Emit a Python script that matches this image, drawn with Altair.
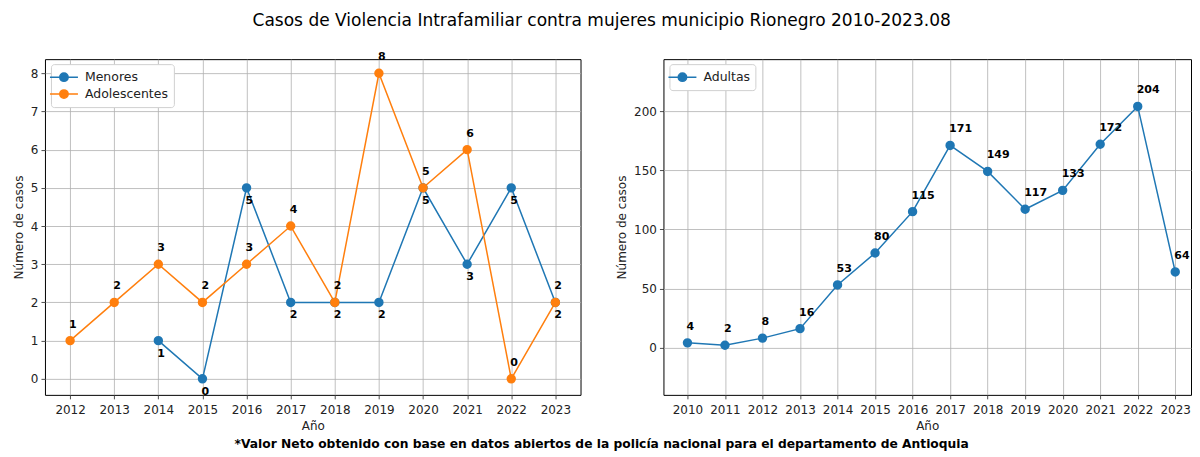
import altair as alt
import pandas as pd

# ---- data ----
years_menores = [2014, 2015, 2016, 2017, 2018, 2019, 2020, 2021, 2022, 2023]
menores = [1, 0, 5, 2, 2, 2, 5, 3, 5, 2]
years_adol = [2012, 2013, 2014, 2015, 2016, 2017, 2018, 2019, 2020, 2021, 2022, 2023]
adolescentes = [1, 2, 3, 2, 3, 4, 2, 8, 5, 6, 0, 2]
years_adultas = list(range(2010, 2024))
adultas = [4, 2, 8, 16, 53, 80, 115, 171, 149, 117, 133, 172, 204, 64]

left_ticks = list(range(2012, 2024))
right_ticks = list(range(2010, 2024))

title_text = "Casos de Violencia Intrafamiliar contra mujeres municipio Rionegro 2010-2023.08"
footer_text = "*Valor Neto obtenido con base en datos abiertos de la policía nacional para el departamento de Antioquia"

BLUE = "#1f77b4"
ORANGE = "#ff7f0e"
FONT = "DejaVu Sans"

df_left = pd.DataFrame(
    {"Año": years_menores, "Casos": menores, "Serie": "Menores"}
)
df_left = pd.concat(
    [df_left, pd.DataFrame({"Año": years_adol, "Casos": adolescentes, "Serie": "Adolescentes"})],
    ignore_index=True,
)
df_right = pd.DataFrame({"Año": years_adultas, "Casos": adultas, "Serie": "Adultas"})

SYMBOL = "M-2,0H2M-0.6,0A0.6,0.6,0,1,1,0.6,0A0.6,0.6,0,1,1,-0.6,0Z"


def legend():
    return alt.Legend(
        title=None,
        orient="none",
        legendX=6,
        legendY=5,
        padding=5,
        strokeColor="#d0d0d0",
        fillColor="white",
        cornerRadius=3,
        symbolType=SYMBOL,
        symbolSize=196,
        symbolStrokeWidth=1.5,
        labelFont=FONT,
        labelFontSize=12.5,
        labelColor="#222",
        labelOffset=13,
        rowPadding=1,
    )


def panel(df, domain_names, colors, xdom, xticks, ydom, yticks, width, below=None):
    x = alt.X(
        "Año:Q",
        scale=alt.Scale(domain=xdom, nice=False, zero=False),
        axis=alt.Axis(values=xticks, format="d", title="Año", labelPadding=6),
    )
    y = alt.Y(
        "Casos:Q",
        scale=alt.Scale(domain=ydom, nice=False, zero=False),
        axis=alt.Axis(values=yticks, format="d", title="Número de casos"),
    )
    sc = alt.Scale(domain=domain_names, range=colors)
    base = alt.Chart(df)
    line = base.mark_line(strokeWidth=1.5).encode(
        x=x, y=y,
        stroke=alt.Stroke("Serie:N", scale=sc, legend=legend()),
        detail="Serie:N",
    )
    pts = base.mark_point(filled=True, size=55, opacity=1).encode(
        x=x, y=y,
        fill=alt.Fill("Serie:N", scale=sc, legend=legend()),
        stroke=alt.Stroke("Serie:N", scale=sc, legend=legend()),
    )
    layers = [line, pts]
    above_names = [n for n in domain_names if n != below]
    txt_above = base.transform_filter(
        alt.FieldOneOfPredicate(field="Serie", oneOf=above_names)
    ).mark_text(
        align="left", baseline="middle", dx=-1, dy=-16,
        font=FONT, fontSize=11, fontWeight="bold", color="black",
    ).encode(x=x, y=y, text=alt.Text("Casos:Q", format="d"))
    layers.append(txt_above)
    if below is not None:
        txt_below = base.transform_filter(
            alt.FieldEqualPredicate(field="Serie", equal=below)
        ).mark_text(
            align="left", baseline="middle", dx=-1, dy=13,
            font=FONT, fontSize=11, fontWeight="bold", color="black",
        ).encode(x=x, y=y, text=alt.Text("Casos:Q", format="d"))
        layers.append(txt_below)
    return alt.layer(*layers).properties(width=width, height=336)


left = panel(
    df_left, ["Menores", "Adolescentes"], [BLUE, ORANGE],
    [2011.43, 2023.57], left_ticks, [-0.42, 8.37], list(range(0, 9)), 536,
    below="Menores",
)
right = panel(
    df_right, ["Adultas"], [BLUE],
    [2009.36, 2023.42], right_ticks, [-40, 244], [0, 50, 100, 150, 200], 528,
)

inner = alt.hconcat(left, right, spacing=33).resolve_scale(
    fill="independent", stroke="independent"
).resolve_legend(fill="independent", stroke="independent").properties(
    title=alt.TitleParams(
        footer_text, orient="bottom", anchor="middle", font=FONT,
        fontSize=12.3, fontWeight="bold", color="black", offset=6,
    )
)

chart = alt.vconcat(inner).properties(
    title=alt.TitleParams(
        title_text, anchor="middle", font=FONT, fontSize=17.05,
        fontWeight="normal", color="black", offset=21,
    ),
    padding={"left": 3, "top": 3, "right": 0, "bottom": 0},
).configure_view(stroke="black", strokeWidth=1).configure_axis(
    domain=False,
    grid=True,
    gridColor="#b0b0b0",
    gridWidth=0.8,
    tickColor="#222",
    tickSize=4,
    tickWidth=0.8,
    labelFont=FONT,
    labelFontSize=12,
    labelColor="#222",
    labelPadding=3,
    titleFont=FONT,
    titleFontSize=12,
    titleFontWeight="normal",
    titleColor="#222",
    titlePadding=5,
    labelFlush=False,
).configure_axisX(labelAngle=0).configure_concat(spacing=33)

chart.save("out.html", embed_options={"renderer": "svg", "actions": False})
